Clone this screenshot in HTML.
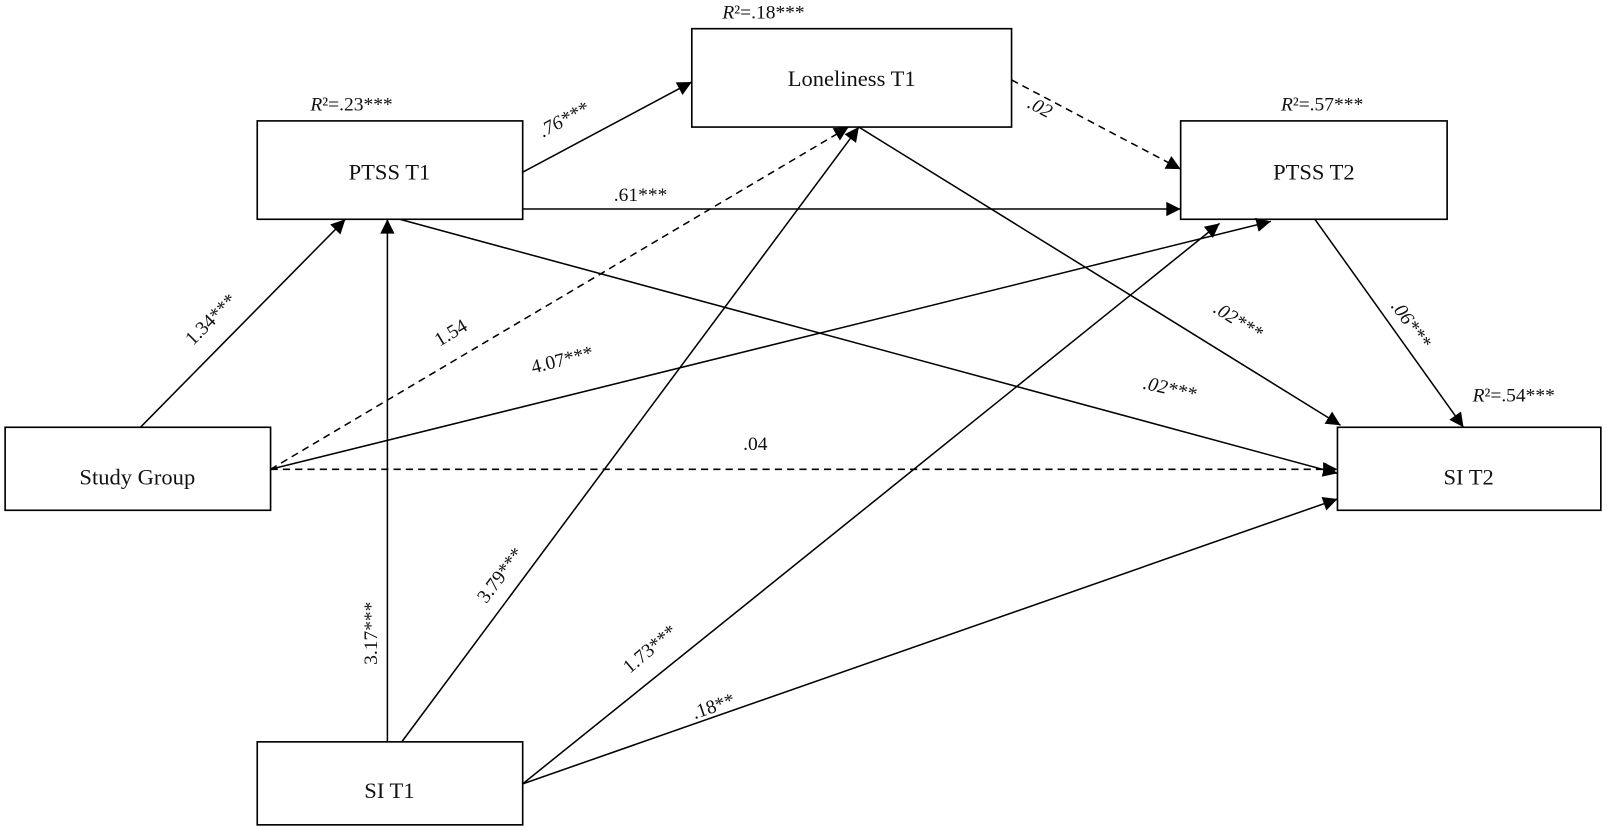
<!DOCTYPE html>
<html><head><meta charset="utf-8"><style>
html,body{margin:0;padding:0;background:#fff;}
svg{display:block;}
text{font-family:"Liberation Serif",serif;fill:#111;}
</style></head><body>
<svg width="1607" height="831" viewBox="0 0 1568 811" preserveAspectRatio="none" xmlns="http://www.w3.org/2000/svg">
<defs>
<marker id="b" viewBox="0 0 10 10" refX="10" refY="5" markerWidth="18" markerHeight="14" markerUnits="userSpaceOnUse" orient="auto">
<path d="M0,0 L10,5 L0,10 z" fill="#000"/></marker>
</defs>
<g stroke="#000" stroke-width="1.6" fill="none">
<rect x="675" y="28" width="312" height="96"/>
<rect x="251" y="118" width="259" height="96"/>
<rect x="1152" y="118" width="260" height="96"/>
<rect x="5" y="417" width="259" height="81"/>
<rect x="1305" y="417" width="257" height="81"/>
<rect x="251" y="724" width="259" height="81"/>
</g>
<g stroke="#000" stroke-width="1.5" fill="none" marker-end="url(#b)">
<line x1="137" y1="417" x2="337" y2="214"/>
<line x1="378" y1="724" x2="378" y2="214"/>
<line x1="392" y1="724" x2="838" y2="124"/>
<line x1="264" y1="458" x2="828" y2="124" stroke-dasharray="7,5"/>
<line x1="264" y1="458" x2="1240" y2="216"/>
<line x1="264" y1="458" x2="1305" y2="458" stroke-dasharray="7,5"/>
<line x1="510" y1="168" x2="675" y2="80"/>
<line x1="510" y1="204" x2="1152" y2="204"/>
<line x1="390" y1="214" x2="1305" y2="462"/>
<line x1="838" y1="124" x2="1308" y2="415"/>
<line x1="987" y1="78" x2="1152" y2="165" stroke-dasharray="7,5"/>
<line x1="1283" y1="214" x2="1428" y2="417"/>
<line x1="510" y1="765" x2="1190" y2="218"/>
<line x1="510" y1="765" x2="1305" y2="487"/>
</g>
<g font-size="22" text-anchor="middle">
<text x="831" y="84">Loneliness T1</text>
<text x="380" y="175">PTSS T1</text>
<text x="1282" y="175">PTSS T2</text>
<text x="134" y="473">Study Group</text>
<text x="1433" y="473">SI T2</text>
<text x="380" y="779">SI T1</text>
</g>
<g font-size="19" text-anchor="middle">
<text x="745" y="18"><tspan font-style="italic">R</tspan>²=.18***</text>
<text x="343" y="108"><tspan font-style="italic">R</tspan>²=.23***</text>
<text x="1290" y="108"><tspan font-style="italic">R</tspan>²=.57***</text>
<text x="1477" y="392"><tspan font-style="italic">R</tspan>²=.54***</text>
<text x="737" y="439">.04</text>
<text x="625" y="196">.61***</text>
<text transform="translate(210,316) rotate(-45)">1.34***</text>
<text transform="translate(368,618) rotate(-90)">3.17***</text>
<text transform="translate(493,565) rotate(-53)">3.79***</text>
<text transform="translate(443,330) rotate(-31)">1.54</text>
<text transform="translate(550,357) rotate(-14)">4.07***</text>
<text transform="translate(553,122) rotate(-28)" font-style="italic">.76***</text>
<text transform="translate(1140,385) rotate(13)" font-style="italic">.02***</text>
<text transform="translate(1205,318) rotate(32)" font-style="italic">.02***</text>
<text transform="translate(1012,110) rotate(28)" font-style="italic">.02</text>
<text transform="translate(1372,320) rotate(54)" font-style="italic">.06***</text>
<text transform="translate(638,638) rotate(-40)">1.73***</text>
<text transform="translate(698,695) rotate(-19)">.18**</text>
</g>
</svg>
</body></html>
